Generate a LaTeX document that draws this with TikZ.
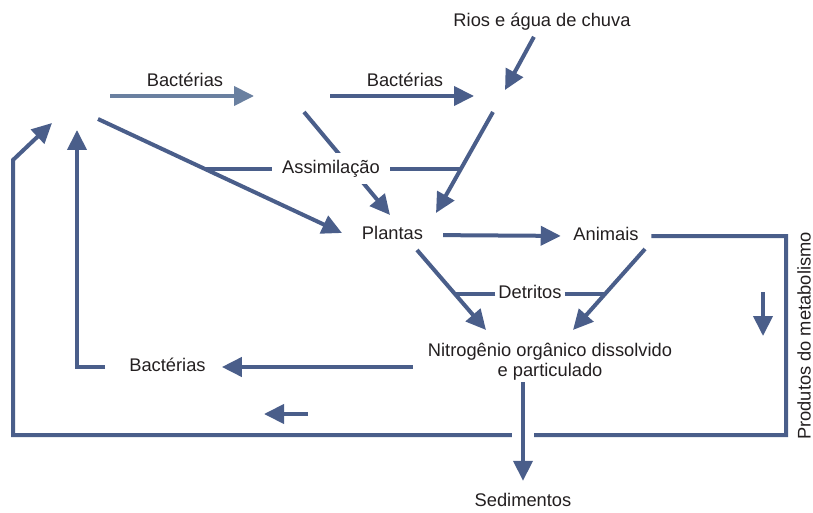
\documentclass[tikz,border=0pt]{standalone}
\usepackage{fontspec}
\setmainfont{Liberation Sans}
\usetikzlibrary{arrows.meta}

\definecolor{nblue}{RGB}{74,94,138}
\definecolor{nlight}{RGB}{106,128,160}
\definecolor{ink}{RGB}{35,31,32}

\tikzset{
  flow/.style={line width=4pt, draw=nblue, -{Triangle[length=20pt,width=19pt]}},
  link/.style={line width=4pt, draw=nblue},
  lbl/.style={font=\fontsize{18.3}{20}\selectfont, text=ink, inner sep=0pt,
              text height=13.2pt, text depth=3.8pt},
  halo/.style={preaction={draw=white, line width=22pt, -}},
}

\begin{document}
\begin{tikzpicture}[x=1pt, y=-1pt]
  \useasboundingbox (0,0) rectangle (813,513);

  %%% free ends round the empty spots
  \coordinate (a1) at (110,96);
  \coordinate (a2) at (52,123);
  \coordinate (a3) at (77,130);
  \coordinate (a4) at (98,119);
  \coordinate (b1) at (254,96);
  \coordinate (b2) at (330,96);
  \coordinate (b3) at (304,112);
  \coordinate (c1) at (474,96);
  \coordinate (c2) at (505,90);
  \coordinate (c3) at (493,112);
  \coordinate (p1) at (436,213);
  \coordinate (p2) at (390,215);
  \coordinate (p3) at (342,233);
  \coordinate (q1) at (417,250);
  \coordinate (q2) at (645,249);
  \coordinate (n1) at (486,330);
  \coordinate (n2) at (573,330);
  \coordinate (r1) at (786,435);
  \coordinate (l1) at (13,435);
  \coordinate (l2) at (13,160);

  %%% labels
  \node[lbl] (rios) at (542,22) {Rios e água de chuva};
  \node[lbl] (bactA) at (185,82) {Bactérias};
  \node[lbl] (bactB) at (405,82) {Bactérias};
  \node[lbl] (plantas) at (392.5,235) {Plantas};
  \node[lbl] (animais) at (606,236) {Animais};
  \node[lbl, inner xsep=3pt] (detritos) at (530,294) {Detritos};
  \node[lbl, align=center, text height={}, text depth={}] (nitro) at (550,362)
    {Nitrogênio orgânico dissolvido\\e particulado};
  \node[lbl] (bactC) at (167.5,367) {Bactérias};
  \node[lbl] (sed) at (523,502) {Sedimentos};
  \node[lbl, rotate=90] (produtos) at (806,336) {Produtos do metabolismo};

  %%% upper part
  \draw[flow, draw=nlight] (a1) -- (b1);
  \draw[flow] (b2) -- (c1);
  \draw[flow, shorten <=7pt] (rios) -- (c2);
  \draw[flow] (c3) -- (p1);
  \draw[flow] (a4) -- (p3);
  \draw[flow] (b3) -- (p2);

  \node[lbl, fill=white, inner xsep=10pt, inner ysep=7pt] (assim) at (331,169) {Assimilação};
  \draw[link] (assim.west) -- ++(-67,0);
  \draw[link] (assim.east) -- ++(71,0);

  %%% plants, animals and detritus
  \draw[flow, shorten <=20pt, shorten >=12.5pt] (plantas.east) -- (animais.west);
  \draw[flow] (q1) -- (n1);
  \draw[flow] (q2) -- (n2);
  \draw[link] (detritos.west) -- ++(-40,0);
  \draw[link] (detritos.east) -- ++(40,0);

  %%% big loop of the metabolism products
  \draw[flow, shorten <=12.5pt] (animais.east) -| (r1) -- (l1) -- (l2) -- (a2);
  \draw[flow] (763,292) -- (763,336);
  \draw[flow] (308,414) -- (264,414);

  %%% lower part
  \draw[flow, shorten <=15pt, shorten >=16pt] (nitro.west |- bactC) -- (bactC.east);
  \draw[flow, shorten <=24pt] (bactC.west) -| (a3);
  \draw[flow, halo, shorten <=1.5pt, shorten >=12.5pt] (sed |- nitro.south) -- (sed.north);
\end{tikzpicture}
\end{document}
